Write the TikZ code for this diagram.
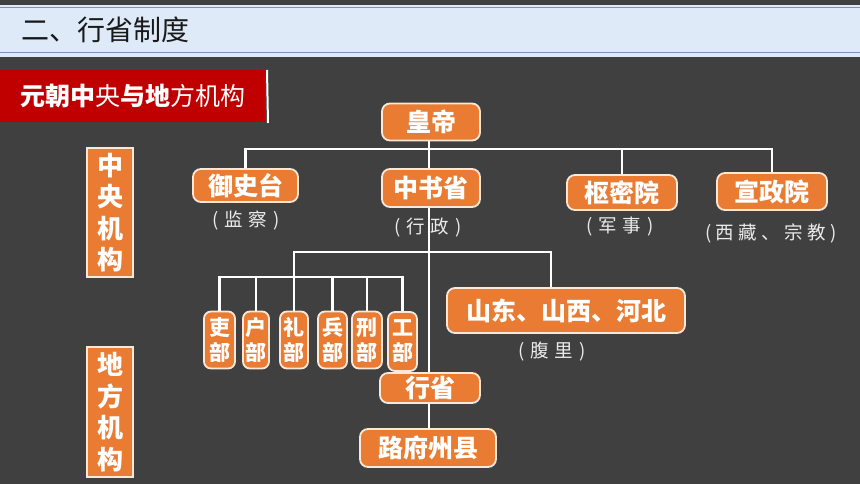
\documentclass[tikz,border=0pt]{standalone}
\usepackage{fontspec}
\setmainfont{Noto Sans CJK SC}
\definecolor{bg}{HTML}{404040}
\definecolor{band}{HTML}{DEEAF7}
\definecolor{bandline}{HTML}{7F93B8}
\definecolor{banner}{HTML}{C00000}
\definecolor{org}{HTML}{E97B32}
\definecolor{cream}{HTML}{FBE8D8}
\definecolor{ptxt}{HTML}{EBEBEB}
\begin{document}
\begin{tikzpicture}[x=1pt,y=-1pt,
  box/.style={draw=cream,line width=1.8pt,fill=org,rounded corners=8pt,inner sep=0pt,
    text=white,font=\fontsize{25}{28}\selectfont\bfseries,align=center},
  mbox/.style={box,rounded corners=7pt,font=\fontsize{21}{25}\selectfont\bfseries,minimum height=57pt},
  sidebox/.style={draw=cream,line width=1.5pt,fill=org,inner sep=0pt,text=white,
    font=\fontsize{26}{31.5}\selectfont\bfseries,align=center,minimum width=46pt,minimum height=129pt},
  ptext/.style={text=ptxt,font=\fontsize{18.5}{20}\selectfont,inner sep=0pt},
  conn/.style={draw=white,line width=2.4pt}]
\useasboundingbox (0,0) rectangle (860,484);
\fill[bg] (0,0) rectangle (860,484);
% header band
\fill[band] (0,5) rectangle (860,57);
\draw[bandline,line width=1.2pt] (0,7.5) -- (860,7.5);
\draw[bandline,line width=1.2pt] (0,52.5) -- (860,52.5);
\node[anchor=west,inner sep=0pt,text=black!90,font=\fontsize{28}{30}\selectfont] (title) at (21,30) {二、行省制度};
% red banner
\fill[banner] (0,70) rectangle (265,122);
\draw[white,line width=2pt] (267,70) -- (268,123);
\node[anchor=west,inner sep=0pt,text=white,font=\fontsize{25}{28}\selectfont] (bannertext) at (20,96)
  {\textbf{元朝中}央\textbf{与地}方机构};
% side labels
\node[sidebox] (zy) at (110,212.5) {中\\央\\机\\构};
\node[sidebox,minimum height=130pt] (df) at (110,412) {地\\方\\机\\构};
% bus coordinates
\coordinate (b1) at (429,149);
\coordinate (b2) at (429,252);
\coordinate (b3) at (294,277);
% boxes
\node[box,minimum width=98pt,minimum height=37pt] (hd) at (431,122) {皇帝};
\node[box,minimum width=105pt,minimum height=33pt] (ysh) at (245.5,185.5) {御史台};
\node[box,minimum width=98pt,minimum height=38pt] (zsh) at (431,188) {中书省};
\node[box,minimum width=110pt,minimum height=35pt] (smy) at (622,192.5) {枢密院};
\node[box,minimum width=110pt,minimum height=37pt] (xzy) at (772,191.5) {宣政院};
\node[box,minimum width=238pt,minimum height=45pt] (sd) at (566,310.5) {山东、山西、河北};
\node[mbox,minimum width=31pt] (li) at (219.5,340) {吏\\部};
\node[mbox,minimum width=26pt] (hu) at (256,340) {户\\部};
\node[mbox,minimum width=28pt] (lb) at (294,340) {礼\\部};
\node[mbox,minimum width=29pt] (bb) at (332.5,340) {兵\\部};
\node[mbox,minimum width=30pt] (xb) at (367,340) {刑\\部};
\node[mbox,minimum width=29pt,minimum height=59pt] (gb) at (402.5,341.5) {工\\部};
\node[box,minimum width=100pt,minimum height=30pt] (xs) at (430,388) {行省};
\node[box,minimum width=136pt,minimum height=38pt] (lf) at (428,448) {路府州县};
% connectors
\draw[conn] (hd.south -| b1) -- (b1);
\draw[conn] (ysh.north) |- (b1) -| (xzy.north);
\draw[conn] (smy.north) -- (smy.north |- b1);
\draw[conn] (b1) -- (b1 |- zsh.north);
\draw[conn] (b1 |- zsh.south) -- (b1 |- xs.north);
\draw[conn] (b1 |- xs.south) -- (b1 |- lf.north);
\draw[conn] (b3) |- (b2) -| ([xshift=-15pt]sd.north);
\draw[conn] (b3) -- (lb.north);
\draw[conn] (li.north) |- (b3) -| (gb.north);
\draw[conn] (hu.north) -- (hu.north |- b3);
\draw[conn] (bb.north) -- (bb.north |- b3);
\draw[conn] (xb.north) -- (xb.north |- b3);
% parenthetical texts
\node[ptext] (jc) at (246,221) {(\hspace{6pt}监\hspace{6pt}察\hspace{6pt})};
\node[ptext] (xz) at (428,228) {(\hspace{6pt}行\hspace{6pt}政\hspace{6pt})};
\node[ptext] (js) at (620,227) {(\hspace{6pt}军\hspace{6pt}事\hspace{6pt})};
\node[ptext] (xzzj) at (771,233) {(\hspace{4.5pt}西\hspace{4.5pt}藏\hspace{4.5pt}、\hspace{4.5pt}宗\hspace{4.5pt}教\hspace{4.5pt})};
\node[ptext] (fl) at (552,352) {(\hspace{6pt}腹\hspace{6pt}里\hspace{6pt})};
\end{tikzpicture}
\end{document}
